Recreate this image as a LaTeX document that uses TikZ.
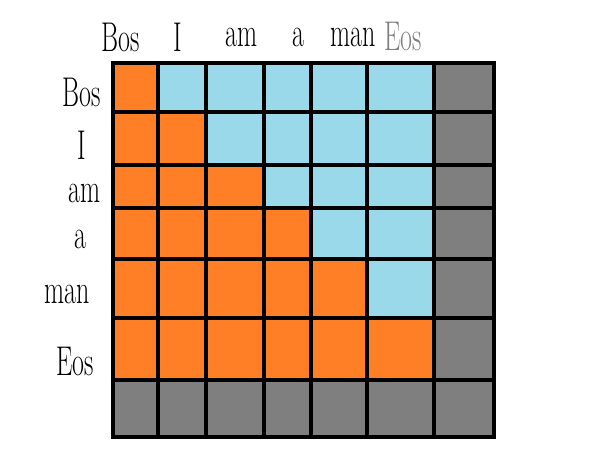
\documentclass[tikz,border=0pt]{standalone}
\usetikzlibrary{positioning}
\definecolor{mskorange}{HTML}{FF7F27}
\definecolor{mskblue}{HTML}{99D9EA}
\definecolor{mskgray}{HTML}{7F7F7F}
\newcommand{\tallword}[1]{\scalebox{1}[1.6]{#1}}
\begin{document}
\begin{tikzpicture}[x=1pt,y=-1pt,
  grd/.style={line width=4.5pt,line cap=rect},
  lbl/.style={font=\fontsize{26}{26}\selectfont,inner sep=0pt}]
\fill[white] (0,0) rectangle (606,462);
\useasboundingbox (0,0) rectangle (606,462);
% ---- cells: padding column/row, future (blue), visible (orange)
\fill[mskgray] (113,63) rectangle (494,437);
\fill[mskblue] (113,63) rectangle (434,380);
\fill[mskorange] (113,63) -- (158,63) -- (158,112) -- (206,112) -- (206,165)
  -- (264,165) -- (264,208) -- (311,208) -- (311,259) -- (367,259)
  -- (367,318) -- (434,318) -- (434,380) -- (113,380) -- cycle;
% ---- grid lines
\foreach \x in {113,158,206,264,311,367,434,494}{\draw[grd] (\x,63) -- (\x,437);}
\foreach \y in {63,112,165,208,259,318,380,437}{\draw[grd] (113,\y) -- (494,\y);}
% ---- key tokens (top)
\foreach \x/\t/\n in {121/Bos/bos,178/I/i,242/am/am,298/a/a,353/man/man}{
  \node[lbl] (k-\n) at (\x,37) {\tallword{\t}};}
\node[lbl,text=mskgray] (k-eos) at (403,37) {\tallword{Eos}};
% ---- query tokens (left)
\foreach \y/\x/\t/\n in {92/82/Bos/bos,145/82/I/i,193/85/am/am,239/80/a/a,294/67/man/man,362/75/Eos/eos}{
  \node[lbl] (q-\n) at (\x,\y) {\tallword{\t}};}
\end{tikzpicture}
\end{document}
